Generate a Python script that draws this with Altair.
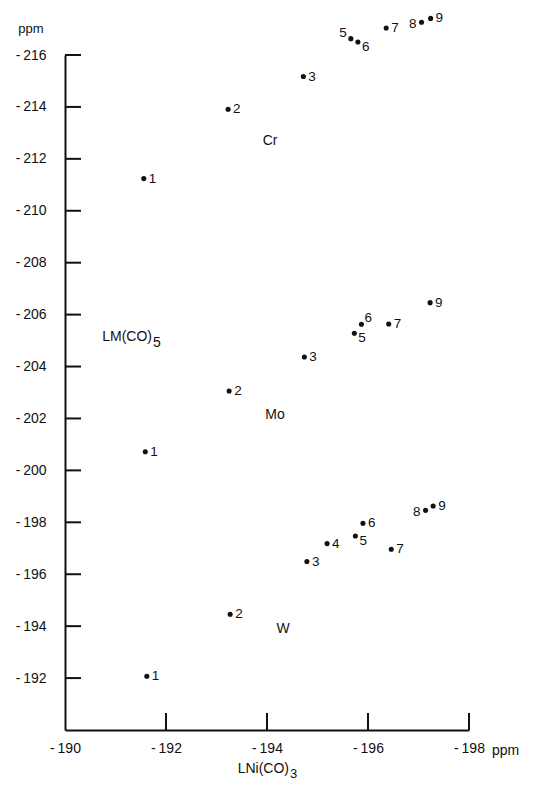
import altair as alt
import pandas as pd

# ---- data ----
cr_ids = [1, 2, 3, 5, 6, 7, 8, 9]
cr_x = [-191.56, -193.23, -194.72, -195.66, -195.80, -196.36, -197.06, -197.24]
cr_y = [-211.24, -213.91, -215.17, -216.63, -216.50, -217.04, -217.26, -217.41]

mo_ids = [1, 2, 3, 5, 6, 7, 9]
mo_x = [-191.59, -193.25, -194.74, -195.73, -195.87, -196.41, -197.23]
mo_y = [-200.72, -203.06, -204.37, -205.28, -205.63, -205.64, -206.46]

w_ids = [1, 2, 3, 4, 5, 6, 7, 8, 9]
w_x = [-191.62, -193.27, -194.79, -195.19, -195.75, -195.90, -196.46, -197.14, -197.29]
w_y = [-192.07, -194.46, -196.49, -197.18, -197.47, -197.96, -196.96, -198.46, -198.63]

x_ticks = [-190, -192, -194, -196, -198]
y_ticks = [-192, -194, -196, -198, -200, -202, -204, -206, -208, -210, -212, -214, -216]

metal_names = ["Cr", "Mo", "W"]
metal_label_x = [-194.06, -194.16, -194.32]
metal_label_y = [-212.67, -202.15, -193.88]

# ---- tables ----
rows = []
for m, ids, xs_, ys_ in (("Cr", cr_ids, cr_x, cr_y), ("Mo", mo_ids, mo_x, mo_y), ("W", w_ids, w_x, w_y)):
    for i, a, b in zip(ids, xs_, ys_):
        rows.append({"metal": m, "id": i, "label": str(i), "x": a, "y": b})
pts = pd.DataFrame(rows)
metals = pd.DataFrame({"name": metal_names, "x": metal_label_x, "y": metal_label_y})
xt = pd.DataFrame({"x": [v for v in x_ticks if v != -190]})
yt = pd.DataFrame({"y": y_ticks})

W, H = 404, 675
FONT = "Liberation Sans"
INK = "#111111"

xs = alt.Scale(domain=[-190, -198], nice=False, zero=False)
ys = alt.Scale(domain=[-190, -216], nice=False, zero=False)

lab_expr = "'-\u2009' + format(abs(datum.value), 'd')"

x_axis = alt.Axis(values=x_ticks, title=None, grid=False, ticks=False, tickSize=0,
                  domainColor=INK, domainWidth=2, labelFont=FONT, labelFontSize=14,
                  labelColor=INK, labelPadding=11, labelFlush=False, labelOverlap=False,
                  labelExpr=lab_expr)
y_axis = alt.Axis(values=y_ticks, title=None, grid=False, ticks=False, tickSize=0,
                  domainColor=INK, domainWidth=2, labelFont=FONT, labelFontSize=14,
                  labelColor=INK, labelPadding=19, labelFlush=False, labelOverlap=False,
                  labelExpr=lab_expr)

X = alt.X("x:Q", scale=xs, axis=x_axis)
Y = alt.Y("y:Q", scale=ys, axis=y_axis)

base = alt.Chart(pts)
points = base.mark_circle(size=26, color=INK, opacity=1).encode(x=X, y=Y)


def lab(cond, align, dx, dy):
    return base.transform_filter(cond).mark_text(
        align=align, baseline="middle", dx=dx, dy=dy, font=FONT, fontSize=13.5, color=INK
    ).encode(x=X, y=Y, text="label:N")


c_ul = "datum.metal=='Cr' && datum.id==5"
c_l = "(datum.metal=='Cr' || datum.metal=='W') && datum.id==8"
c_lr = "(datum.metal=='Cr' && datum.id==6) || ((datum.metal=='Mo' || datum.metal=='W') && datum.id==5)"
c_ur = "datum.metal=='Mo' && datum.id==6"
c_def = f"!(({c_ul}) || ({c_l}) || ({c_lr}) || ({c_ur}))"

labels = [
    lab(c_def, "left", 5, 0),
    lab(c_ul, "right", -4, -6),
    lab(c_l, "right", -5, 2),
    lab(c_lr, "left", 4, 5),
    lab(c_ur, "left", 3, -6),
]

metal_text = alt.Chart(metals).mark_text(
    align="center", baseline="middle", font=FONT, fontSize=14, color=INK
).encode(x=X, y=Y, text="name:N")

y_tick_rules = alt.Chart(yt).mark_rule(color=INK, strokeWidth=2).encode(
    y=Y, x=alt.value(0), x2=alt.value(16))
x_tick_rules = alt.Chart(xt).mark_rule(color=INK, strokeWidth=2).encode(
    x=X, y=alt.value(H), y2=alt.value(H - 17))


def txt(t, x, y, size=14, align="center"):
    return alt.Chart(pd.DataFrame({"t": [t]})).mark_text(
        align=align, baseline="middle", font=FONT, fontSize=size, color=INK
    ).encode(x=alt.value(x), y=alt.value(y), text="t:N")


annot = [
    txt("ppm", -34, -26, 13),
    txt("ppm", 427, 696, 14, "left"),
    txt("LNi(CO)", 224, 714, 14, "right"),
    txt("3", 225, 719, 13, "left"),
    txt("LM(CO)", 87, 282, 14, "right"),
    txt("5", 88, 288, 14, "left"),
]

chart = alt.layer(
    points, y_tick_rules, x_tick_rules, *labels, metal_text, *annot
).properties(
    width=W, height=H,
    autosize=alt.AutoSizeParams(type="none"),
    padding={"left": 57, "top": 47, "right": 60, "bottom": 54},
).configure(background="white").configure_view(stroke=None)

chart.save("out.html", embed_options={"renderer": "svg", "actions": False})
